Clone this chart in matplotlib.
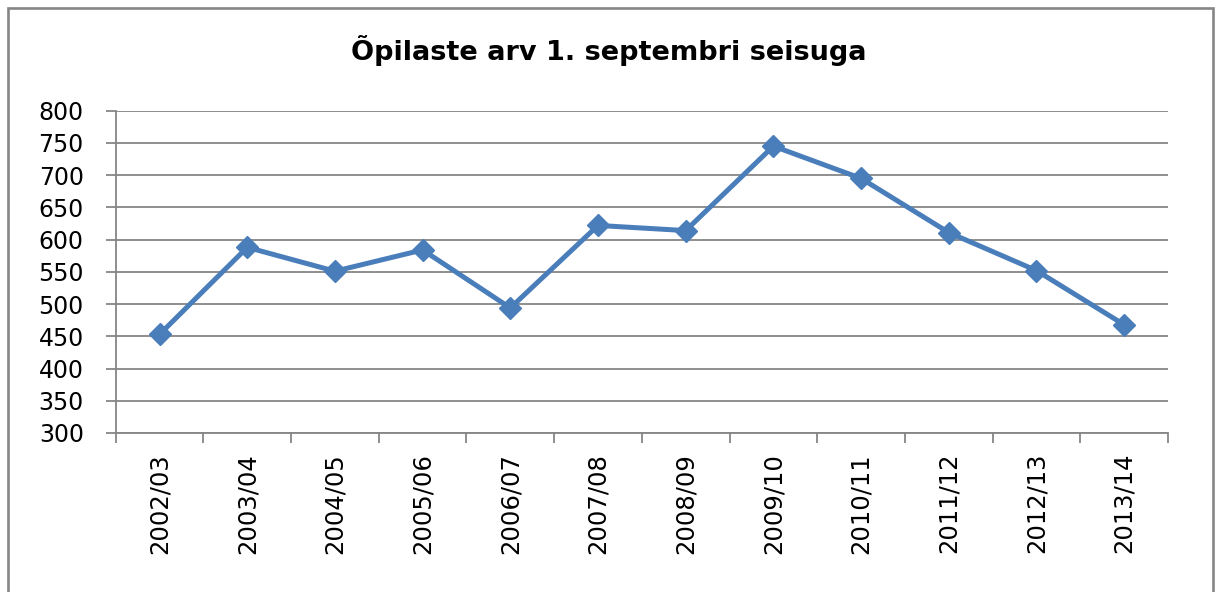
import matplotlib
matplotlib.use('Agg')
import matplotlib.pyplot as plt
from matplotlib.patches import Rectangle

# school years and number of pupils on 1 September
years = ['2002/03', '2003/04', '2004/05', '2005/06', '2006/07', '2007/08',
         '2008/09', '2009/10', '2010/11', '2011/12', '2012/13', '2013/14']
pupils = [453, 588, 551, 584, 494, 622, 614, 745, 695, 611, 552, 468]
y_ticks = [300, 350, 400, 450, 500, 550, 600, 650, 700, 750, 800]

title = 'Õpilaste arv 1. septembri seisuga'
grey = '#868686'
blue = '#4A7EBB'

fig = plt.figure(figsize=(12.17, 5.92), dpi=100)
ax = fig.add_axes([0.0951, 0.2686, 0.8646, 0.5444])

x = list(range(len(years)))
ax.plot(x, pupils, color=blue, lw=3.6, marker='D', markersize=11,
        markeredgecolor=blue, markerfacecolor=blue, zorder=3)

ax.set_xlim(-0.5, len(years) - 0.5)
ax.set_ylim(300, 800)
ax.set_yticks(y_ticks)
ax.set_yticklabels([str(v) for v in y_ticks])
ax.yaxis.grid(True, color=grey, lw=1.3)

# category boundaries get tick marks, centres get labels
ax.set_xticks([i - 0.5 for i in range(len(years) + 1)])
ax.set_xticklabels([])
ax.set_xticks(x, minor=True)
ax.set_xticklabels(years, minor=True, rotation=90, fontsize=17.5)
ax.tick_params(axis='x', which='minor', length=0, pad=14.4)
ax.tick_params(axis='x', which='major', length=7.2, width=1.3, color=grey, direction='out')
ax.tick_params(axis='y', length=7.2, width=1.3, color=grey, direction='out',
               labelsize=17, pad=15.8)

for s in ['top', 'right']:
    ax.spines[s].set_visible(False)
for s in ['left', 'bottom']:
    ax.spines[s].set_color(grey)
    ax.spines[s].set_linewidth(1.3)

fig.text(0.5, 0.9155, title, ha='center', va='center', fontsize=19.5,
         fontweight='bold', family='DejaVu Sans')

fig.patches.append(Rectangle((8 / 1217, -0.05), 1205 / 1217, 1.05 - 7.5 / 592,
                             transform=fig.transFigure, fill=False,
                             edgecolor=grey, lw=1.9))

fig.savefig('out.png', dpi=100)
